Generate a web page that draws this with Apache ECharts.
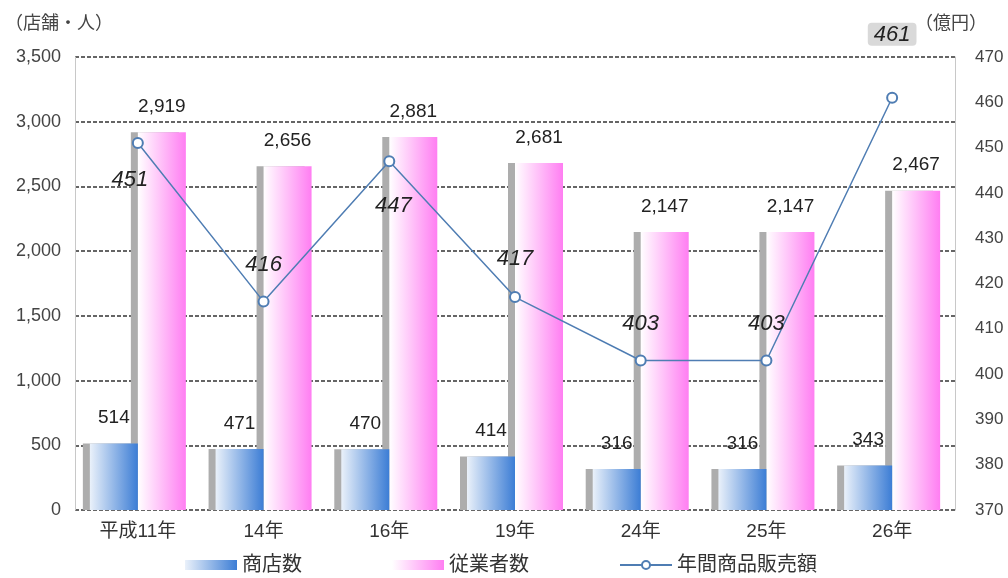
<!DOCTYPE html>
<html>
<head>
<meta charset="utf-8">
<script src="https://cdn.jsdelivr.net/npm/echarts@6/dist/echarts.min.js"></script>
<style>
html,body{margin:0;padding:0;background:#fff;}
#c{width:1008px;height:578px;}
</style>
</head>
<body>
<div id="c"></div>
<script>
const categories = ['平成11年', '14年', '16年', '19年', '24年', '25年', '26年'];
const shops = [514, 471, 470, 414, 316, 316, 343];
const employees = [2919, 2656, 2881, 2681, 2147, 2147, 2467];
const sales = [451, 416, 447, 417, 403, 403, 461];
const leftTicks = { min: 0, max: 3500, interval: 500 };
const rightTicks = { min: 370, max: 470, interval: 10 };

const FONT = "'Liberation Sans', 'Noto Sans CJK JP', sans-serif";
const fmt = v => Number(v).toLocaleString('en-US');

// label placement for line points (position, distance, offset)
const lineLabelStyle = [
  { position: 'bottom', distance: 20, offset: [-8, 0] },
  { position: 'top', distance: 20 },
  { position: 'bottom', distance: 28, offset: [4, 0] },
  { position: 'top', distance: 21 },
  { position: 'top', distance: 20 },
  { position: 'top', distance: 20 },
  { position: 'top', distance: 46, backgroundColor: '#d9d9d9', borderRadius: 4, padding: [1, 6, 0, 6] }
];

const chart = echarts.init(document.getElementById('c'));
chart.setOption({
  backgroundColor: '#fff',
  animation: false,
  textStyle: { fontFamily: FONT },
  grid: { left: 75, right: 53, top: 57, bottom: 68, outerBoundsMode: 'none', containLabel: false },
  legend: {
    left: 180, top: 550,
    itemWidth: 52, itemHeight: 10, itemGap: 90,
    textStyle: { fontSize: 20, color: '#333', fontFamily: FONT },
    data: [
      { name: '商店数', icon: 'rect' },
      { name: '従業者数', icon: 'rect' },
      { name: '年間商品販売額' }
    ]
  },
  xAxis: {
    type: 'category',
    data: categories,
    axisLine: { show: false },
    axisTick: { show: false },
    axisLabel: { fontSize: 19, color: '#333', margin: 12, fontFamily: FONT }
  },
  yAxis: [
    {
      type: 'value',
      min: leftTicks.min, max: leftTicks.max, interval: leftTicks.interval,
      name: '（店舗・人）',
      nameLocation: 'end',
      nameGap: 24,
      nameTextStyle: { fontSize: 18, color: '#444', align: 'left', padding: [0, 0, 0, -70], fontFamily: FONT },
      axisLine: { show: true, lineStyle: { color: '#c8c8c8', width: 1 } },
      axisTick: { show: false },
      axisLabel: { fontSize: 18, color: '#444', margin: 14, formatter: fmt },
      splitLine: { show: true, lineStyle: { color: '#333', type: [4, 2], width: 1.5 } }
    },
    {
      type: 'value',
      min: rightTicks.min, max: rightTicks.max, interval: rightTicks.interval,
      name: '（億円）',
      nameLocation: 'end',
      nameGap: 24,
      nameTextStyle: { fontSize: 18, color: '#444', align: 'left', padding: [0, 0, 0, -40], fontFamily: FONT },
      axisLine: { show: true, lineStyle: { color: '#c8c8c8', width: 1 } },
      axisTick: { show: false },
      axisLabel: { fontSize: 17, color: '#444', margin: 20 },
      splitLine: { show: false }
    }
  ],
  series: [
    {
      name: '商店数',
      type: 'bar',
      data: shops,
      barWidth: 48,
      barGap: '0%',
      z: 3,
      itemStyle: {
        color: new echarts.graphic.LinearGradient(0, 0, 1, 0, [
          { offset: 0, color: '#eaf1fa' },
          { offset: 1, color: '#3c7dd5' }
        ]),
        shadowColor: '#adadad', shadowOffsetX: -7, shadowOffsetY: 0, shadowBlur: 0
      },
      label: { show: true, position: 'top', distance: 16, fontSize: 19, color: '#222', formatter: p => fmt(p.value) }
    },
    {
      name: '従業者数',
      type: 'bar',
      data: employees,
      barWidth: 48,
      z: 2,
      itemStyle: {
        color: new echarts.graphic.LinearGradient(0, 0, 1, 0, [
          { offset: 0, color: '#ffffff' },
          { offset: 1, color: '#ff7ef2' }
        ]),
        shadowColor: '#adadad', shadowOffsetX: -7, shadowOffsetY: 0, shadowBlur: 0
      },
      label: { show: true, position: 'top', distance: 16, fontSize: 19, color: '#222', formatter: p => fmt(p.value) }
    },
    {
      name: '年間商品販売額',
      type: 'line',
      yAxisIndex: 1,
      z: 5,
      data: sales.map((v, i) => ({ value: v, label: lineLabelStyle[i] })),
      symbol: 'emptyCircle',
      symbolSize: 10,
      lineStyle: { color: '#4f7db3', width: 1.5 },
      itemStyle: { color: '#4f7db3', borderWidth: 2 },
      label: { show: true, fontSize: 22, fontStyle: 'italic', color: '#222' }
    }
  ]
});
</script>
</body>
</html>
